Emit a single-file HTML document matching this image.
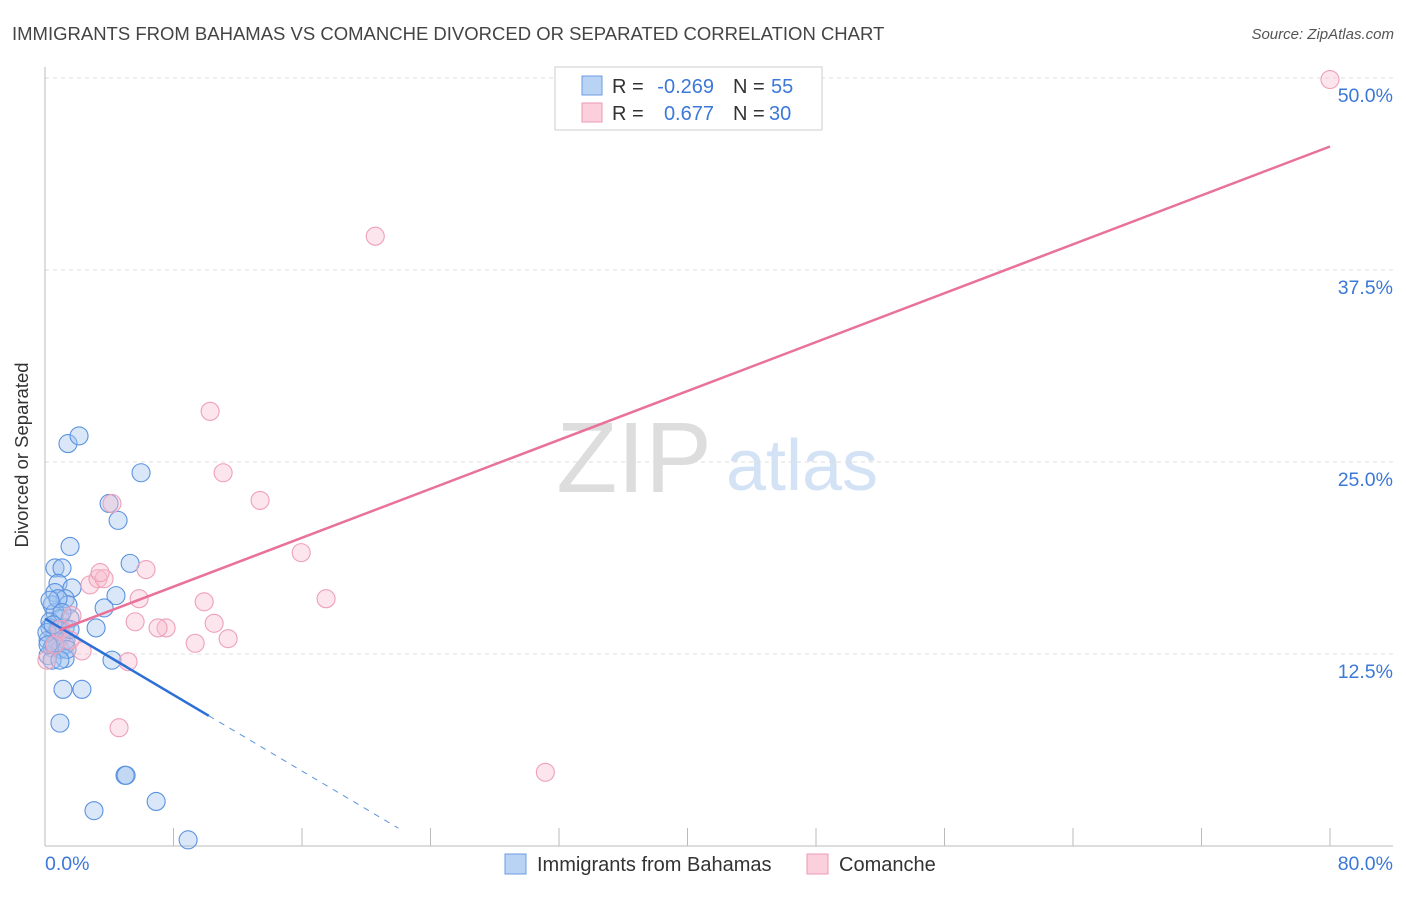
<!DOCTYPE html>
<html><head><meta charset="utf-8"><style>
body{margin:0;background:#fff;font-family:"Liberation Sans",sans-serif;}
svg text{font-family:"Liberation Sans",sans-serif;}
</style></head><body>
<svg id="chart" width="1406" height="892">
<text x="12" y="40" font-size="18.5" fill="#444">IMMIGRANTS FROM BAHAMAS VS COMANCHE DIVORCED OR SEPARATED CORRELATION CHART</text>
<text x="1394" y="39" font-size="15" fill="#555" text-anchor="end" font-style="italic">Source: ZipAtlas.com</text>
<g>
<text x="634" y="492" font-size="100" fill="#ddd" font-family="Liberation Serif" text-anchor="middle">ZIP</text>
<text x="802" y="490" font-size="72" fill="#d3e2f5" text-anchor="middle">atlas</text>
</g>
<g id="grid"></g>
<g id="axes"></g>
<g id="pts"></g>
<g id="lines"></g>
<text x="28" y="455" font-size="18.5" fill="#333" text-anchor="middle" transform="rotate(-90 28 455)">Divorced or Separated</text>
<text x="45" y="870" font-size="19.5" fill="#3b78d8">0.0%</text>
<text x="1393" y="870" font-size="19.5" fill="#3b78d8" text-anchor="end">80.0%</text>
<g>
<rect x="555" y="67" width="267" height="63" fill="#fff" stroke="#ccc"/>
<rect x="582" y="76" width="20" height="19" fill="#b9d3f5" stroke="#6a9be0"/>
<rect x="582" y="103" width="20" height="19" fill="#fbcfdc" stroke="#ec9ab3"/>
<text x="612" y="93" font-size="20" fill="#333">R =</text>
<text x="714" y="93" font-size="20" fill="#3b78d8" text-anchor="end">-0.269</text>
<text x="733" y="93" font-size="20" fill="#333">N =</text>
<text x="771" y="93" font-size="20" fill="#3b78d8">55</text>
<text x="612" y="120" font-size="20" fill="#333">R =</text>
<text x="714" y="120" font-size="20" fill="#3b78d8" text-anchor="end">0.677</text>
<text x="733" y="120" font-size="20" fill="#333">N =</text>
<text x="769" y="120" font-size="20" fill="#3b78d8">30</text>
</g>
<g>
<rect x="505" y="854" width="21" height="20" fill="#b9d3f5" stroke="#6a9be0"/>
<text x="537" y="871" font-size="20" fill="#333">Immigrants from Bahamas</text></g>
<g>
<rect x="807" y="854" width="21" height="20" fill="#fbcfdc" stroke="#ec9ab3"/>
<text x="839" y="871" font-size="20" fill="#333">Comanche</text></g>
</svg>
<script>
const yTicks=[12.5,25,37.5,50];
const yTickLabels=["12.5%","25.0%","37.5%","50.0%"];
const xTicks=[0,8,16,24,32,40,48,56,64,72,80];
const blueX=[1.43,2.12,5.98,3.99,4.55,1.56,5.30,0.62,1.06,0.81,1.68,4.42,0.62,1.25,0.44,1.43,3.68,0.62,0.93,1.56,1.25,3.18,0.31,0.62,1.06,0.19,0.75,1.25,0.44,0.93,0.19,1.25,4.17,1.12,2.30,0.93,4.98,5.05,3.05,6.92,8.91,0.31,0.81,1.31,0.56,0.12,0.44,0.81,0.31,1.06,1.56,0.50,1.37,0.19,0.93];
const blueY=[26.2,26.7,24.3,22.3,21.2,19.5,18.4,18.1,18.1,17.1,16.8,16.3,16.5,16.1,15.7,15.7,15.5,15.2,14.8,14.8,14.2,14.2,14.2,13.7,13.7,13.4,13.3,13.1,12.9,12.8,12.4,12.2,12.1,10.2,10.2,8.0,4.6,4.6,2.3,2.9,0.4,14.6,14.1,13.4,13.1,13.9,12.1,16.1,16.0,15.2,14.1,14.4,12.8,13.1,12.1];
const pinkX=[80,20.56,10.28,11.09,13.39,4.17,15.95,6.29,2.80,3.30,3.68,3.43,17.5,5.86,9.91,5.61,10.53,7.54,7.04,11.4,9.35,2.31,5.17,4.61,31.15,0.12,0.93,1.56,0.62,1.68];
const pinkY=[49.9,39.7,28.3,24.3,22.5,22.3,19.1,18.0,17.0,17.4,17.4,17.8,16.1,16.1,15.9,14.6,14.5,14.2,14.2,13.5,13.2,12.7,12.0,7.7,4.8,12.1,14.1,13.4,13.1,15.0];
const blueTrend=[14.8,-0.62];
const pinkTrend=[13.7,0.398];
const X=v=>45+v/80*1285, Y=v=>846-v/12.5*192;
const NS="http://www.w3.org/2000/svg";
function mk(t,p,a){const e=document.createElementNS(NS,t);for(const k in a)e.setAttribute(k,a[k]);p.appendChild(e);return e;}
const grid=document.getElementById('grid'),axes=document.getElementById('axes'),pts=document.getElementById('pts'),lines=document.getElementById('lines');
yTicks.forEach((t,i)=>{
 const l=mk('line',grid,{x1:45,x2:1393,y1:Y(t),y2:Y(t),stroke:'#ddd','stroke-dasharray':'4,4'});
 
 
 const tx=mk('text',grid,{x:1393,y:Y(t)+24,'font-size':19.5,fill:'#3b78d8','text-anchor':'end'});
 tx.textContent=yTickLabels[i];
 
 
});
const ya=mk('line',axes,{x1:45,x2:45,y1:67,y2:846,stroke:'#bbb'});


const xa=mk('line',axes,{x1:45,x2:1393,y1:846,y2:846,stroke:'#bbb'});


xTicks.forEach(t=>{
 const l=mk('line',axes,{x1:X(t),x2:X(t),y1:828,y2:846,stroke:'#bbb'});
 
 
});
blueX.forEach((x,i)=>{
 const c=mk('circle',pts,{cx:X(x),cy:Y(blueY[i]),r:9,fill:'rgba(160,196,240,0.4)',stroke:'#5b93e0','stroke-width':1.1});
 
 
});
pinkX.forEach((x,i)=>{
 const c=mk('circle',pts,{cx:X(x),cy:Y(pinkY[i]),r:9,fill:'rgba(248,190,208,0.4)',stroke:'#eea0b8','stroke-width':1.1});
 
 
});
const bt=x=>blueTrend[0]+blueTrend[1]*x, pt=x=>pinkTrend[0]+pinkTrend[1]*x;
const b1=mk('line',lines,{x1:X(0),y1:Y(bt(0)),x2:X(10.2),y2:Y(bt(10.2)),stroke:'#2c6fd6','stroke-width':2.5});


const b2=mk('line',lines,{x1:X(10.2),y1:Y(bt(10.2)),x2:X(22),y2:Y(bt(22)),stroke:'#5b93e0','stroke-width':1,'stroke-dasharray':'6,6'});


const p1=mk('line',lines,{x1:X(0.9),y1:Y(pt(0.9)),x2:X(80),y2:Y(pt(80)),stroke:'#e8729a','stroke-width':2.5});


</script>
</body></html>
